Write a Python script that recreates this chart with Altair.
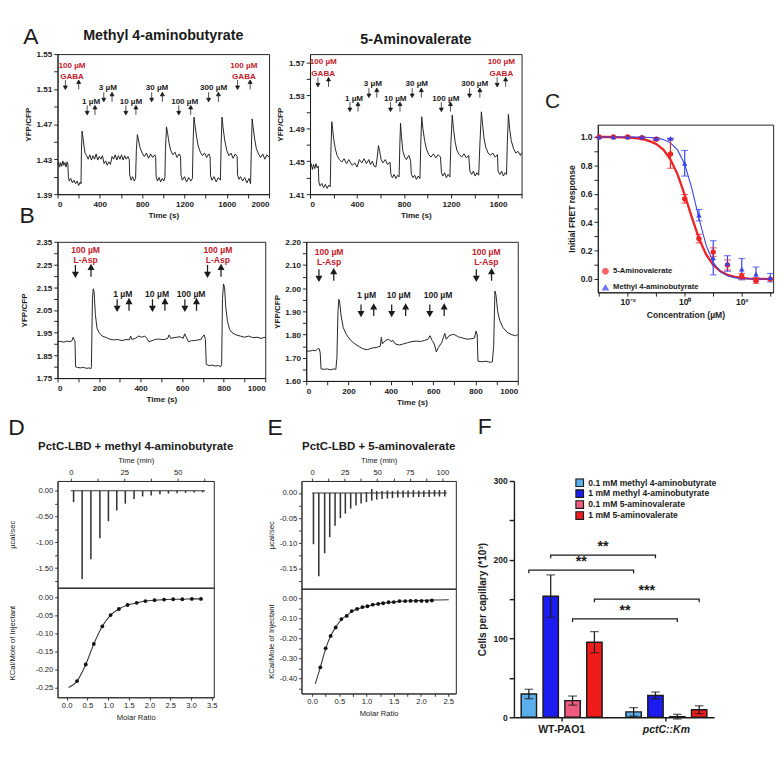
import altair as alt
import pandas as pd

FONT = "Liberation Sans"
INK = "#1b1b1b"
LIGAND_RED = "#c3202b"

# ---------------- Panel A (left): methyl 4-aminobutyrate FRET trace ----------------
a1_time = [0, 10, 20, 30, 40, 50, 60, 70, 80, 90, 98, 102, 110, 125, 140, 155, 170, 185, 200, 215, 222, 226, 232, 240, 250, 260,
           275, 290, 305, 320, 335, 350, 365, 380, 395, 410, 425, 440, 455, 470, 485, 500, 515, 530, 545, 560, 575, 590, 605,
           620, 635, 650, 665, 678, 682, 695, 710, 725, 738, 745, 755, 765, 780, 800, 820, 840, 860, 880, 900, 920, 928, 932,
           945, 960, 975, 990, 1005, 1015, 1020, 1030, 1040, 1055, 1070, 1090, 1110, 1130, 1150, 1163, 1167, 1180, 1200, 1220,
           1240, 1260, 1275, 1282, 1290, 1300, 1315, 1330, 1350, 1370, 1390, 1410, 1430, 1442, 1447, 1460, 1480, 1500, 1520,
           1540, 1546, 1555, 1565, 1580, 1600, 1620, 1640, 1660, 1680, 1698, 1702, 1715, 1730, 1750, 1770, 1790, 1810, 1825,
           1832, 1840, 1850, 1865, 1880, 1900, 1920, 1940, 1960, 1980, 2000]
a1_ratio = [1.424, 1.427, 1.421, 1.426, 1.422, 1.428, 1.423, 1.426, 1.421, 1.427, 1.424, 1.410, 1.405, 1.408, 1.403, 1.406,
            1.402, 1.405, 1.400, 1.404, 1.402, 1.440, 1.462, 1.455, 1.445, 1.437, 1.434, 1.430, 1.435, 1.429, 1.434, 1.430,
            1.436, 1.429, 1.433, 1.430, 1.434, 1.425, 1.428, 1.423, 1.427, 1.424, 1.433, 1.430, 1.435, 1.429, 1.434, 1.430,
            1.435, 1.429, 1.434, 1.430, 1.433, 1.430, 1.412, 1.406, 1.410, 1.405, 1.408, 1.440, 1.458, 1.452, 1.443, 1.437,
            1.433, 1.437, 1.431, 1.436, 1.432, 1.435, 1.432, 1.410, 1.405, 1.409, 1.404, 1.408, 1.405, 1.409, 1.440, 1.467,
            1.460, 1.448, 1.440, 1.435, 1.438, 1.432, 1.436, 1.433, 1.412, 1.406, 1.410, 1.404, 1.409, 1.405, 1.408, 1.450,
            1.478, 1.468, 1.455, 1.445, 1.438, 1.434, 1.437, 1.432, 1.436, 1.433, 1.411, 1.406, 1.410, 1.404, 1.409, 1.406,
            1.445, 1.478, 1.466, 1.452, 1.440, 1.434, 1.437, 1.431, 1.436, 1.433, 1.412, 1.407, 1.410, 1.405, 1.409, 1.403,
            1.408, 1.402, 1.440, 1.476, 1.466, 1.452, 1.442, 1.436, 1.432, 1.436, 1.430, 1.435, 1.432]
a1_lab_text = ["100 µM", "GABA", "1 µM", "3 µM", "10 µM", "30 µM", "100 µM", "300 µM", "100 µM", "GABA"]
a1_lab_kind = ["ligand", "ligand", "dose", "dose", "dose", "dose", "dose", "dose", "ligand", "ligand"]
a1_lab_x = [137, 137, 317, 476, 694, 940, 1202, 1475, 1762, 1762]
a1_lab_y = [1.537, 1.525, 1.496, 1.512, 1.496, 1.512, 1.496, 1.512, 1.537, 1.525]
a1_down_x = [74, 280, 437, 646, 890, 1146, 1428, 1702]
a1_up_x = [200, 354, 515, 741, 991, 1259, 1521, 1821]
a1_arrow_y = [1.515, 1.486, 1.501, 1.486, 1.501, 1.486, 1.501, 1.515]
a1_xticks = [0, 200, 400, 600, 800, 1000, 1200, 1400, 1600, 1800, 2000]
a1_xlabels = [0, 400, 800, 1200, 1600, 2000]
a1_yticks = [1.39, 1.41, 1.43, 1.45, 1.47, 1.49, 1.51, 1.53, 1.55]
a1_ylabels = [1.39, 1.43, 1.47, 1.51, 1.55]

# ---------------- Panel A (right): 5-aminovalerate FRET trace ----------------
a2_time = [0, 10, 20, 30, 40, 50, 60, 70, 75, 85, 100, 115, 130, 145, 160, 172, 177, 185, 192, 200, 215, 230, 250, 270, 290,
           310, 330, 345, 360, 380, 400, 420, 440, 460, 480, 500, 515, 530, 545, 560, 572, 582, 592, 605, 620, 640, 660, 680,
           688, 700, 715, 730, 745, 758, 764, 770, 778, 790, 805, 820, 840, 855, 862, 875, 890, 905, 920, 935, 942, 950, 960,
           975, 990, 1010, 1030, 1050, 1070, 1090, 1110, 1118, 1130, 1145, 1160, 1175, 1190, 1198, 1210, 1220, 1235, 1250,
           1270, 1290, 1310, 1330, 1350, 1360, 1375, 1390, 1405, 1420, 1435, 1445, 1458, 1468, 1480, 1495, 1515, 1535, 1555,
           1575, 1595, 1600, 1615, 1630, 1645, 1660, 1672, 1678, 1688, 1698, 1712, 1730, 1750, 1770, 1790, 1800]
a2_ratio = [1.444, 1.447, 1.440, 1.446, 1.441, 1.447, 1.442, 1.444, 1.425, 1.420, 1.423, 1.418, 1.422, 1.417, 1.421, 1.419,
            1.460, 1.498, 1.490, 1.478, 1.465, 1.457, 1.452, 1.449, 1.453, 1.447, 1.452, 1.448, 1.445, 1.448, 1.443, 1.452,
            1.448, 1.453, 1.447, 1.452, 1.446, 1.450, 1.444, 1.443, 1.455, 1.469, 1.462, 1.452, 1.448, 1.452, 1.446, 1.449,
            1.434, 1.430, 1.434, 1.429, 1.433, 1.431, 1.470, 1.496, 1.480, 1.462, 1.455, 1.452, 1.457, 1.451, 1.434, 1.430,
            1.433, 1.428, 1.432, 1.429, 1.470, 1.504, 1.490, 1.475, 1.465, 1.458, 1.455, 1.459, 1.454, 1.458, 1.455, 1.436,
            1.432, 1.436, 1.430, 1.434, 1.431, 1.470, 1.506, 1.490, 1.473, 1.463, 1.458, 1.455, 1.459, 1.454, 1.457, 1.438,
            1.434, 1.438, 1.432, 1.436, 1.433, 1.470, 1.510, 1.495, 1.478, 1.467, 1.460, 1.457, 1.460, 1.455, 1.458, 1.438,
            1.434, 1.438, 1.432, 1.436, 1.434, 1.470, 1.507, 1.490, 1.475, 1.466, 1.460, 1.462, 1.457, 1.460]
a2_lab_text = ["100 µM", "GABA", "1 µM", "3 µM", "10 µM", "30 µM", "100 µM", "300 µM", "100 µM", "GABA"]
a2_lab_kind = ["ligand", "ligand", "dose", "dose", "dose", "dose", "dose", "dose", "ligand", "ligand"]
a2_lab_x = [112, 112, 374, 535, 725, 908, 1156, 1401, 1628, 1628]
a2_lab_y = [1.571, 1.557, 1.527, 1.545, 1.527, 1.545, 1.527, 1.545, 1.571, 1.557]
a2_down_x = [67, 339, 501, 685, 869, 1117, 1357, 1592]
a2_up_x = [157, 408, 568, 765, 947, 1195, 1445, 1664]
a2_arrow_y = [1.546, 1.516, 1.533, 1.516, 1.533, 1.516, 1.533, 1.546]
a2_xticks = [0, 200, 400, 600, 800, 1000, 1200, 1400, 1600, 1800]
a2_xlabels = [0, 400, 800, 1200, 1600]
a2_yticks = [1.41, 1.43, 1.45, 1.47, 1.49, 1.51, 1.53, 1.55, 1.57]
a2_ylabels = [1.41, 1.45, 1.49, 1.53, 1.57]

# ---------------- Panel B (left): L-Asp control with methyl 4-aminobutyrate ----------------
b1_time = [0, 15, 30, 45, 60, 70, 75, 80, 84, 87, 95, 110, 125, 140, 155, 160, 163, 168, 172, 176, 182, 190, 200, 215, 230,
           250, 270, 290, 310, 330, 345, 352, 358, 375, 390, 405, 420, 430, 440, 455, 470, 485, 500, 515, 530, 537, 545, 560,
           575, 590, 605, 612, 620, 630, 645, 660, 675, 690, 700, 706, 712, 716, 730, 745, 760, 775, 785, 790, 794, 799, 804,
           810, 818, 828, 840, 860, 880, 900, 920, 940, 960, 980, 1000]
b1_ratio = [1.910, 1.912, 1.908, 1.913, 1.910, 1.915, 1.930, 1.920, 1.910, 1.800, 1.797, 1.795, 1.797, 1.793, 1.795, 1.790,
            1.800, 2.100, 2.143, 2.130, 2.030, 1.970, 1.950, 1.935, 1.930, 1.922, 1.918, 1.920, 1.915, 1.920, 1.918, 1.935,
            1.920, 1.925, 1.935, 1.930, 1.935, 1.925, 1.910, 1.915, 1.920, 1.922, 1.920, 1.920, 1.925, 1.940, 1.925, 1.928,
            1.930, 1.932, 1.925, 1.945, 1.930, 1.910, 1.915, 1.915, 1.918, 1.920, 1.935, 1.940, 1.920, 1.810, 1.805, 1.807,
            1.803, 1.805, 1.800, 1.810, 2.100, 2.165, 2.150, 2.060, 2.000, 1.965, 1.950, 1.940, 1.935, 1.930, 1.935, 1.928,
            1.930, 1.925, 1.930]
b1_lab_text = ["100 µM", "L-Asp", "1 µM", "10 µM", "100 µM", "100 µM", "L-Asp"]
b1_lab_kind = ["ligand", "ligand", "dose", "dose", "dose", "ligand", "ligand"]
b1_lab_x = [135, 135, 314, 479, 643, 772, 772]
b1_lab_y = [2.314, 2.270, 2.118, 2.118, 2.118, 2.314, 2.270]
b1_down_x = [86, 287, 457, 613, 722]
b1_up_x = [161, 344, 517, 669, 787]
b1_arrow_y = [2.222, 2.072, 2.072, 2.072, 2.222]
b1_xticks = [0, 100, 200, 300, 400, 500, 600, 700, 800, 900, 1000]
b1_xlabels = [0, 200, 400, 600, 800, 1000]
b1_yticks = [1.75, 1.80, 1.85, 1.90, 1.95, 2.00, 2.05, 2.10, 2.15, 2.20, 2.25, 2.30, 2.35]
b1_ylabels = [1.75, 1.85, 1.95, 2.05, 2.15, 2.25, 2.35]

# ---------------- Panel B (right): L-Asp control with 5-aminovalerate ----------------
b2_time = [0, 15, 30, 45, 55, 62, 66, 70, 85, 100, 115, 130, 140, 145, 150, 154, 158, 165, 175, 190, 210, 230, 250, 270,
           290, 310, 330, 350, 355, 360, 375, 390, 400, 410, 420, 440, 460, 480, 500, 520, 540, 560, 575, 585, 595, 605, 615,
           625, 640, 655, 662, 675, 690, 700, 720, 740, 760, 780, 795, 803, 808, 812, 830, 850, 870, 880, 886, 892, 897, 905,
           915, 930, 950, 970, 990, 1000]
b2_ratio = [1.730, 1.728, 1.732, 1.730, 1.740, 1.738, 1.720, 1.652, 1.650, 1.652, 1.648, 1.652, 1.650, 1.700, 1.900, 1.952,
            1.940, 1.880, 1.830, 1.800, 1.775, 1.760, 1.748, 1.738, 1.735, 1.742, 1.744, 1.750, 1.788, 1.760, 1.775, 1.780,
            1.770, 1.775, 1.760, 1.755, 1.760, 1.765, 1.770, 1.772, 1.770, 1.775, 1.780, 1.795, 1.775, 1.760, 1.725, 1.745,
            1.765, 1.805, 1.780, 1.795, 1.800, 1.800, 1.790, 1.785, 1.780, 1.782, 1.785, 1.815, 1.800, 1.685, 1.683, 1.685,
            1.680, 1.683, 1.750, 1.988, 1.970, 1.900, 1.860, 1.830, 1.810, 1.800, 1.795, 1.800]
b2_lab_text = ["100 µM", "L-Asp", "1 µM", "10 µM", "100 µM", "100 µM", "L-Asp"]
b2_lab_kind = ["ligand", "ligand", "dose", "dose", "dose", "ligand", "ligand"]
b2_lab_x = [108, 108, 285, 437, 623, 851, 851]
b2_lab_y = [2.156, 2.112, 1.971, 1.971, 1.971, 2.156, 2.112]
b2_down_x = [60, 259, 404, 584, 804]
b2_up_x = [130, 319, 470, 652, 876]
b2_arrow_y = [2.057, 1.905, 1.905, 1.905, 2.057]
b2_xticks = [0, 100, 200, 300, 400, 500, 600, 700, 800, 900, 1000]
b2_xlabels = [0, 200, 400, 600, 800, 1000]
b2_yticks = [1.60, 1.65, 1.70, 1.75, 1.80, 1.85, 1.90, 1.95, 2.00, 2.05, 2.10, 2.15, 2.20]
b2_ylabels = [1.60, 1.70, 1.80, 1.90, 2.00, 2.10, 2.20]

# ---------------- Panel C: dose response ----------------
c_series = ["5-Aminovalerate", "Methyl 4-aminobutyrate"]
c_colors = ["#ee2424", "#3340ee"]
c_conc = [0.001, 0.00316, 0.01, 0.0316, 0.1, 0.316, 1, 3.16, 10, 31.6, 100, 316, 1000]
c_amv = [1.0, 1.0, 1.0, 0.995, 0.985, 0.88, 0.565, 0.285, 0.19, 0.10, 0.02, -0.01, 0.0]
c_amv_err = [0.0, 0.0, 0.005, 0.005, 0.01, 0.10, 0.03, 0.03, 0.03, 0.035, 0.02, 0.02, 0.0]
c_mab = [1.0, 1.0, 1.0, 1.0, 0.99, 0.99, 0.815, 0.45, 0.15, 0.11, 0.07, 0.035, 0.01]
c_mab_err = [0.0, 0.0, 0.0, 0.0, 0.005, 0.0, 0.09, 0.04, 0.12, 0.055, 0.075, 0.05, 0.03]
c_fit_conc = [0.001, 0.00178, 0.00316, 0.00562, 0.01, 0.0178, 0.0316, 0.0562, 0.1, 0.178, 0.316, 0.562, 1, 1.78,
              3.16, 5.62, 10, 17.8, 31.6, 56.2, 100, 178, 316, 562, 1000]
c_fit_amv = [1.0, 1.0, 0.999, 0.998, 0.996, 0.993, 0.986, 0.973, 0.951, 0.912, 0.843, 0.737, 0.593, 0.434, 0.287,
             0.174, 0.100, 0.055, 0.030, 0.016, 0.008, 0.004, 0.002, 0.001, 0.0005]
c_fit_mab = [1.0, 1.0, 1.0, 1.0, 1.0, 0.999, 0.998, 0.997, 0.992, 0.982, 0.959, 0.909, 0.808, 0.639, 0.427, 0.239,
             0.117, 0.053, 0.023, 0.010, 0.004, 0.002, 0.001, 0.0005, 0.0002]
c_xticks = [0.001, 0.01, 0.1, 1, 10, 100, 1000]
c_yticks = [0.0, 0.1, 0.2, 0.3, 0.4, 0.5, 0.6, 0.7, 0.8, 0.9, 1.0]
c_ylabels = [0.0, 0.2, 0.4, 0.6, 0.8, 1.0]

# ---------------- Panel D: ITC PctC-LBD + methyl 4-aminobutyrate ----------------
d_inj_time = [1.3, 5.3, 9.4, 13.6, 17.6, 21.5, 25.5, 29.6, 33.6, 37.6, 41.7, 45.7, 49.7, 53.7, 57.7, 61.7]
d_inj_low = [-0.22, -1.71, -1.33, -0.92, -0.59, -0.38, -0.25, -0.16, -0.11, -0.09, -0.065, -0.053, -0.047, -0.041,
             -0.035, -0.030]
d_inj_high = [0.0] * 16
d_base_time = [0.0, 62.8]
d_base_power = [0.0, 0.0]
d_ratio = [0.25, 0.46, 0.655, 0.86, 1.06, 1.26, 1.47, 1.69, 1.90, 2.12, 2.35, 2.57, 2.79, 3.02, 3.24]
d_heat = [-0.232, -0.186, -0.129, -0.080, -0.049, -0.032, -0.021, -0.015, -0.010, -0.0075, -0.006, -0.005, -0.005,
          -0.004, -0.004]
d_fit_ratio = [0.045, 0.25, 0.46, 0.655, 0.86, 1.06, 1.26, 1.47, 1.69, 1.90, 2.12, 2.35, 2.57, 2.79, 3.02, 3.24]
d_fit_heat = [-0.250, -0.232, -0.186, -0.129, -0.080, -0.049, -0.032, -0.021, -0.015, -0.010, -0.0075, -0.006,
              -0.005, -0.005, -0.004, -0.004]
d_tticks = [0, 12.5, 25, 37.5, 50, 62.5]
d_tlabels = [0, 25, 50]
d_pticks = [0.0, -0.25, -0.5, -0.75, -1.0, -1.25, -1.5, -1.75]
d_plabels = [0.0, -0.5, -1.0, -1.5]
d_rticks = [0.0, 0.5, 1.0, 1.5, 2.0, 2.5, 3.0, 3.5]
d_hticks = [0.0, -0.05, -0.10, -0.15, -0.20, -0.25]

# ---------------- Panel E: ITC PctC-LBD + 5-aminovalerate ----------------
e_inj_time = [1.0, 5.1, 9.6, 13.5, 17.6, 21.7, 25.5, 29.6, 33.7, 37.6, 41.7, 45.8, 49.6, 53.7, 57.8, 61.7, 65.8, 69.9,
              73.7, 77.8, 81.9, 85.8, 89.9, 94.0, 97.8, 101.9]
e_inj_low = [-0.102, -0.166, -0.120, -0.088, -0.065, -0.050, -0.041, -0.031, -0.025, -0.021, -0.018, -0.015, -0.013,
             -0.012, -0.011, -0.010, -0.009, -0.009, -0.009, -0.008, -0.008, -0.008, -0.008, -0.007, -0.007, -0.007]
e_inj_high = [0.0, 0.0, 0.0, 0.0, 0.0, 0.0, 0.0, 0.0, 0.0, 0.0, 0.002, 0.008, 0.004, 0.004, 0.005, 0.004, 0.005, 0.005,
              0.005, 0.006, 0.005, 0.005, 0.006, 0.006, 0.006, 0.006]
e_base_time = [0.0, 103.5]
e_base_power = [0.0, 0.0]
e_ratio = [0.15, 0.248, 0.34, 0.433, 0.537, 0.635, 0.727, 0.825, 0.924, 1.016, 1.114, 1.213, 1.305, 1.404, 1.50,
           1.605, 1.709, 1.808, 1.906, 2.01, 2.107, 2.20]
e_heat = [-0.344, -0.249, -0.187, -0.145, -0.103, -0.087, -0.063, -0.052, -0.043, -0.039, -0.031, -0.027, -0.024,
          -0.019, -0.018, -0.013, -0.013, -0.012, -0.012, -0.012, -0.013, -0.010]
e_fit_ratio = [0.057, 0.15, 0.248, 0.34, 0.433, 0.537, 0.635, 0.727, 0.825, 0.924, 1.016, 1.114, 1.213, 1.305, 1.404,
               1.50, 1.605, 1.709, 1.808, 1.906, 2.01, 2.107, 2.20, 2.51]
e_fit_heat = [-0.427, -0.344, -0.252, -0.187, -0.143, -0.106, -0.085, -0.066, -0.053, -0.045, -0.039, -0.032, -0.027,
              -0.023, -0.020, -0.017, -0.015, -0.013, -0.012, -0.011, -0.010, -0.009, -0.008, -0.006]
e_tticks = [0, 12.5, 25, 37.5, 50, 62.5, 75, 87.5, 100]
e_tlabels = [0, 25, 50, 75, 100]
e_pticks = [0.0, -0.025, -0.05, -0.075, -0.10, -0.125, -0.15, -0.175]
e_plabels = [0.0, -0.05, -0.10, -0.15]
e_rticks = [0.0, 0.25, 0.5, 0.75, 1.0, 1.25, 1.5, 1.75, 2.0, 2.25, 2.5]
e_rlabels = [0.0, 0.5, 1.0, 1.5, 2.0, 2.5]
e_hticks = [0.0, -0.05, -0.10, -0.15, -0.20, -0.25, -0.30, -0.35, -0.40, -0.45]
e_hlabels = [0.0, -0.10, -0.20, -0.30, -0.40]

# ---------------- Panel F: chemotaxis capillary assay ----------------
f_groups = ["WT-PAO1", "pctC::Km"]
f_series = ["0.1 mM methyl 4-aminobutyrate", "1 mM methyl 4-aminobutyrate", "0.1 mM 5-aminovalerate",
            "1 mM 5-aminovalerate"]
f_colors = ["#5aaeea", "#1c1cf0", "#ef5b81", "#f01c1c"]
f_wt = [29.6, 153.8, 21.2, 95.4]
f_wt_err = [6.0, 27.0, 5.8, 13.4]
f_ko = [6.9, 27.7, 0.8, 9.6]
f_ko_err = [5.4, 4.4, 3.0, 5.0]
f_yticks = [0, 50, 100, 150, 200, 250, 300]
f_ylabels = [0, 100, 200, 300]
sig_series = [0, 1, 3, 2]
sig_height = [187, 206, 150, 125]
sig_text = ["**", "**", "***", "**"]
sig_leg = 4

# arrow glyphs (unit-square SVG paths for point symbols)
ARROW_DOWN = "M0,-1L0,0.35M-0.42,0.25L0,1L0.42,0.25Z"
ARROW_UP = "M0,1L0,-0.35M-0.42,-0.25L0,-1L0.42,-0.25Z"


# ======================= helpers =======================
def show_expr(show, fmt, minus=False):
    arr = ",".join(repr(s) for s in show)
    e = f"format(datum.value, '{fmt}')"
    if minus:
        e = f"replace({e}, '\u2212', '-')"
    return f"indexof([{arr}], datum.value) >= 0 ? {e} : ''"


def letter(txt, dx=0, dy=0, offset=0, size=24):
    return alt.Title(txt, anchor="start", font=FONT, fontSize=size, fontWeight="normal", color=INK,
                     dx=dx, dy=dy, offset=offset)


def hc(*charts, **kw):
    return alt.hconcat(*charts, **kw).resolve_scale(color="independent", shape="independent")


def vc(*charts, **kw):
    return alt.vconcat(*charts, **kw).resolve_scale(color="independent", shape="independent")


def blank(w, h):
    return alt.Chart(pd.DataFrame({"s": [0]})).mark_point(opacity=0).encode(
        x=alt.X("s:Q", axis=None), y=alt.Y("s:Q", axis=None)).properties(
        width=w, height=h, view=alt.ViewBackground(strokeOpacity=0))


KEEP = dict(labelOverlap=False, tickCount=200)

AB_AXIS = dict(labelFont=FONT, labelFontWeight="bold", labelFontSize=8.5, labelColor=INK,
               titleFont=FONT, titleFontWeight="bold", titleFontSize=8.5, titleColor=INK,
               tickSize=4, tickColor=INK, domainColor=INK, grid=False, labelPadding=2, **KEEP)


def trace_panel(time, ratio, lab_text, lab_kind, lab_x, lab_y, down_x, up_x, arrow_y,
                xdom, ydom, xticks, xlabels, yticks, ylabels, w, h, title=None, ypad=4,
                lab_size=8.5, arrow_size=100, arrow_stroke=0.8):
    tr = pd.DataFrame({"t": time, "v": ratio})
    xs = alt.Scale(domain=xdom, nice=False, zero=False)
    ys = alt.Scale(domain=ydom, nice=False, zero=False)
    xa = alt.Axis(values=xticks, labelExpr=show_expr(xlabels, "d"), title="Time (s)", titlePadding=3, **AB_AXIS)
    ya = alt.Axis(values=yticks, labelExpr=show_expr(ylabels, ".2f"), title="YFP/CFP", titlePadding=ypad, **AB_AXIS)
    line = alt.Chart(tr).mark_line(color=INK, strokeWidth=1).encode(
        x=alt.X("t:Q", scale=xs, axis=xa), y=alt.Y("v:Q", scale=ys, axis=ya))
    lab = pd.DataFrame({"t": lab_x, "v": lab_y, "txt": lab_text, "kind": lab_kind})
    red = alt.Chart(lab).transform_filter(alt.datum.kind == "ligand").mark_text(
        font=FONT, fontWeight="bold", fontSize=lab_size, color=LIGAND_RED).encode(x="t:Q", y="v:Q", text="txt:N")
    blk = alt.Chart(lab).transform_filter(alt.datum.kind == "dose").mark_text(
        font=FONT, fontWeight="bold", fontSize=lab_size, color=INK).encode(x="t:Q", y="v:Q", text="txt:N")
    dn = alt.Chart(pd.DataFrame({"t": down_x, "v": arrow_y})).mark_point(
        shape=ARROW_DOWN, size=arrow_size, filled=True, fill=INK, stroke=INK, strokeWidth=arrow_stroke,
        opacity=1).encode(x="t:Q", y="v:Q")
    up = alt.Chart(pd.DataFrame({"t": up_x, "v": arrow_y})).mark_point(
        shape=ARROW_UP, size=arrow_size, filled=True, fill=INK, stroke=INK, strokeWidth=arrow_stroke,
        opacity=1).encode(x="t:Q", y="v:Q")
    ch = alt.layer(line, red, blk, dn, up).properties(width=w, height=h)
    if title:
        ch = ch.properties(title=alt.Title(title, font=FONT, fontSize=15, fontWeight="bold", color=INK,
                                           offset=8, frame="group"))
    return ch


ITC_AXIS = dict(labelFont=FONT, labelFontSize=8, labelColor="#222", titleFont=FONT, titleFontSize=8,
                titleFontWeight="normal", titleColor="#222", tickSize=3, tickColor="#333", domainColor="#333",
                grid=False, labelPadding=2, **KEEP)


def itc_panel(inj_t, inj_lo, inj_hi, base_t, base_p, ratio, heat, fit_r, fit_h,
              tdom, pdom, tticks, tlabels, pticks, plabels,
              rdom, hdom, rticks, rlabels, hticks, hlabels, w, h1, h2, title, let, ypad):
    xs_t = alt.Scale(domain=tdom, nice=False, zero=False)
    ys_p = alt.Scale(domain=pdom, nice=False, zero=False)
    xa_t = alt.Axis(orient="top", values=tticks, labelExpr=show_expr(tlabels, "d"), title="Time (min)",
                    titlePadding=4, **ITC_AXIS)
    ya_p = alt.Axis(values=pticks, labelExpr=show_expr(plabels, ".2f", True), title="µcal/sec",
                    titlePadding=ypad, **ITC_AXIS)
    base = alt.Chart(pd.DataFrame({"t": base_t, "p": base_p})).mark_line(color="#333", strokeWidth=1.2).encode(
        x=alt.X("t:Q", scale=xs_t, axis=xa_t), y=alt.Y("p:Q", scale=ys_p, axis=ya_p))
    spikes = alt.Chart(pd.DataFrame({"t": inj_t, "p": inj_lo, "p2": inj_hi})).mark_rule(
        color="#333", strokeWidth=1.6).encode(x="t:Q", y="p:Q", y2="p2:Q")
    top = alt.layer(base, spikes).properties(
        width=w, height=h1,
        title=alt.Title(title, font=FONT, fontSize=12, fontWeight="bold", color=INK, offset=5, frame="group"))

    xs_r = alt.Scale(domain=rdom, nice=False, zero=False)
    ys_h = alt.Scale(domain=hdom, nice=False, zero=False)
    xa_r = alt.Axis(values=rticks, labelExpr=show_expr(rlabels, ".1f"), title="Molar Ratio", titlePadding=4,
                    **ITC_AXIS)
    ya_h = alt.Axis(values=hticks, labelExpr=show_expr(hlabels, ".2f", True), title="KCal/Mole of Injectant",
                    titlePadding=ypad, **ITC_AXIS)
    fit = alt.Chart(pd.DataFrame({"r": fit_r, "q": fit_h})).mark_line(
        color="#333", strokeWidth=1.1, interpolate="monotone").encode(
        x=alt.X("r:Q", scale=xs_r, axis=xa_r), y=alt.Y("q:Q", scale=ys_h, axis=ya_h))
    pts = alt.Chart(pd.DataFrame({"r": ratio, "q": heat})).mark_point(
        filled=True, color="#111", size=16, opacity=1).encode(x="r:Q", y="q:Q")
    bot = alt.layer(fit, pts).properties(width=w, height=h2)
    return vc(top, bot, spacing=0, bounds="flush", title=letter(let))


# ======================= Panels A & B =======================
A1 = trace_panel(a1_time, a1_ratio, a1_lab_text, a1_lab_kind, a1_lab_x, a1_lab_y, a1_down_x, a1_up_x, a1_arrow_y,
                 [0, 2000], [1.39, 1.55], a1_xticks, a1_xlabels, a1_yticks, a1_ylabels, 222, 147,
                 title="Methyl 4-aminobutyrate")
A2 = trace_panel(a2_time, a2_ratio, a2_lab_text, a2_lab_kind, a2_lab_x, a2_lab_y, a2_down_x, a2_up_x, a2_arrow_y,
                 [0, 1800], [1.41, 1.58], a2_xticks, a2_xlabels, a2_yticks, a2_ylabels, 222, 147,
                 title="5-Aminovalerate")
B1 = trace_panel(b1_time, b1_ratio, b1_lab_text, b1_lab_kind, b1_lab_x, b1_lab_y, b1_down_x, b1_up_x, b1_arrow_y,
                 [0, 1000], [1.75, 2.35], b1_xticks, b1_xlabels, b1_yticks, b1_ylabels, 218, 143, ypad=8,
                 lab_size=9, arrow_size=150, arrow_stroke=1.3)
B2 = trace_panel(b2_time, b2_ratio, b2_lab_text, b2_lab_kind, b2_lab_x, b2_lab_y, b2_down_x, b2_up_x, b2_arrow_y,
                 [0, 1000], [1.60, 2.20], b2_xticks, b2_xlabels, b2_yticks, b2_ylabels, 222, 146,
                 lab_size=9, arrow_size=150, arrow_stroke=1.3)

rowA = hc(A1, A2, spacing=3, title=letter("A", offset=-22))
rowB = hc(B1, B2, spacing=3, title=letter("B", offset=10))
leftCol = vc(rowA, rowB, spacing=-16)

# ======================= Panel C =======================
c_df = pd.DataFrame({
    "conc": c_conc + c_conc,
    "resp": c_amv + c_mab,
    "err": c_amv_err + c_mab_err,
    "series": [c_series[0]] * len(c_conc) + [c_series[1]] * len(c_conc),
})
c_fit = pd.DataFrame({"conc": c_fit_conc, "amv": c_fit_amv, "mab": c_fit_mab})
C_AXIS = dict(labelFont=FONT, labelFontWeight="bold", labelFontSize=9, labelColor=INK, titleFont=FONT,
              titleFontWeight="bold", titleFontSize=9, titleColor=INK, tickSize=4, tickColor=INK,
              domainColor=INK, grid=False, labelPadding=2, titlePadding=4, **KEEP)
c_xs = alt.Scale(type="log", domain=[0.0009, 1260], nice=False)
c_ys = alt.Scale(domain=[-0.093, 1.087], nice=False, zero=False)
c_xa = alt.Axis(values=c_xticks, title="Concentration (µM)",
                labelExpr="datum.value == 0.01 ? '10⁻²' : datum.value == 1 ? '10⁰' : datum.value == 100 ? '10²' : ''",
                **C_AXIS)
c_ya = alt.Axis(values=c_yticks, labelExpr=show_expr(c_ylabels, ".1f"), title="Initial FRET response", **C_AXIS)
c_cs = alt.Scale(domain=c_series, range=c_colors)
c_leg = alt.Legend(title=None, orient="none", legendX=4, legendY=150, labelFont=FONT, labelFontWeight="bold",
                   labelFontSize=8, labelColor=INK, symbolSize=30, rowPadding=5, labelOffset=4)
fit_amv = alt.Chart(c_fit).mark_line(color=c_colors[0], strokeWidth=2.4).encode(
    x=alt.X("conc:Q", scale=c_xs, axis=c_xa), y=alt.Y("amv:Q", scale=c_ys, axis=c_ya))
fit_mab = alt.Chart(c_fit).mark_line(color=c_colors[1], strokeWidth=1.1).encode(x="conc:Q", y="mab:Q")
c_base = alt.Chart(c_df).transform_calculate(lo="datum.resp - datum.err", hi="datum.resp + datum.err")
c_err = c_base.mark_rule(strokeWidth=1.2).encode(
    x="conc:Q", y="lo:Q", y2="hi:Q", color=alt.Color("series:N", scale=c_cs, legend=c_leg))
c_cap_lo = c_base.mark_tick(orient="horizontal", size=7, thickness=1.2).encode(
    x="conc:Q", y="lo:Q", color=alt.Color("series:N", scale=c_cs, legend=c_leg))
c_cap_hi = c_base.mark_tick(orient="horizontal", size=7, thickness=1.2).encode(
    x="conc:Q", y="hi:Q", color=alt.Color("series:N", scale=c_cs, legend=c_leg))
c_pts = alt.Chart(c_df).mark_point(filled=True, size=32, opacity=1).encode(
    x="conc:Q", y="resp:Q",
    color=alt.Color("series:N", scale=c_cs, legend=c_leg),
    shape=alt.Shape("series:N", scale=alt.Scale(domain=c_series, range=["circle", "triangle-up"]), legend=c_leg))
C = alt.layer(fit_amv, fit_mab, c_err, c_cap_lo, c_cap_hi, c_pts).properties(
    width=184, height=176, title=letter("C", size=22, dx=-24, offset=12))

Ccol = vc(blank(1, 28), C, spacing=10)

row1 = hc(leftCol, Ccol, spacing=20)

# ======================= Panels D & E =======================
D = itc_panel(d_inj_time, d_inj_low, d_inj_high, d_base_time, d_base_power, d_ratio, d_heat, d_fit_ratio, d_fit_heat,
              [-6.2, 66.9], [-1.88, 0.19], d_tticks, d_tlabels, d_pticks, d_plabels,
              [-0.22, 3.55], [-0.277, 0.027], d_rticks, d_rticks, d_hticks, d_hticks,
              164, 112, 115, "PctC-LBD + methyl 4-aminobutyrate", "D", 20)
E = itc_panel(e_inj_time, e_inj_low, e_inj_high, e_base_time, e_base_power, e_ratio, e_heat, e_fit_ratio, e_fit_heat,
              [-8.2, 110.4], [-0.1906, 0.024], e_tticks, e_tlabels, e_pticks, e_plabels,
              [-0.196, 2.64], [-0.475, 0.049], e_rticks, e_rlabels, e_hticks, e_hlabels,
              162, 113, 110, "PctC-LBD + 5-aminovalerate", "E", 4)

# ======================= Panel F =======================
f_df = pd.DataFrame({
    "group": [f_groups[0]] * 4 + [f_groups[1]] * 4,
    "series": f_series + f_series,
    "value": f_wt + f_ko,
    "err": f_wt_err + f_ko_err,
})
brk = []
for k, (s, hgt) in enumerate(zip(sig_series, sig_height)):
    brk += [dict(b=k, o=0, group=f_groups[0], series=f_series[s], y=hgt - sig_leg),
            dict(b=k, o=1, group=f_groups[0], series=f_series[s], y=hgt),
            dict(b=k, o=2, group=f_groups[1], series=f_series[s], y=hgt),
            dict(b=k, o=3, group=f_groups[1], series=f_series[s], y=hgt - sig_leg)]
brk_df = pd.DataFrame(brk)
star_df = pd.DataFrame({"group": [f_groups[0]] * 4, "series": [f_series[s] for s in sig_series],
                        "y": sig_height, "txt": sig_text})

F_W, F_H = 210, 248
f_pi, f_po = 0.2, 0.055
f_xs = alt.Scale(domain=f_groups, paddingInner=f_pi, paddingOuter=f_po)
f_xo = alt.Scale(domain=f_series, paddingInner=0.297, paddingOuter=0.066)
f_ys = alt.Scale(domain=[0, 300], nice=False)
F_AXIS = dict(labelFont=FONT, labelFontWeight="bold", labelColor=INK, titleFont=FONT, titleFontWeight="bold",
              titleColor=INK, tickColor=INK, domainColor=INK, domainWidth=1.5, tickWidth=1.5, grid=False, **KEEP)
f_xa = alt.Axis(title=None, labelFontSize=11, labelPadding=3, tickSize=4, labelAngle=0,
                labelFontStyle={"condition": {"test": "datum.value === 'pctC::Km'", "value": "italic"},
                                "value": "normal"}, **F_AXIS)
f_ya = alt.Axis(values=f_yticks, labelExpr=show_expr(f_ylabels, "d"), title="Cells per capillary (*10³)",
                labelFontSize=9, titleFontSize=10.5, tickSize=5, labelPadding=2, titlePadding=6, **F_AXIS)
f_x = alt.X("group:N", scale=f_xs, axis=f_xa, sort=f_groups)
f_xoff = alt.XOffset("series:N", scale=f_xo, sort=f_series)
f_leg = alt.Legend(title=None, orient="none", legendX=64, legendY=-3, symbolType="square", symbolSize=64,
                   symbolStrokeColor=INK, symbolStrokeWidth=1.2, labelFont=FONT, labelFontWeight="bold",
                   labelFontSize=9, labelColor=INK, rowPadding=1.5, clipHeight=9.5, labelLimit=300)
bars = alt.Chart(f_df).mark_bar(stroke=INK, strokeWidth=1.5).encode(
    x=f_x, xOffset=f_xoff, y=alt.Y("value:Q", scale=f_ys, axis=f_ya),
    color=alt.Color("series:N", scale=alt.Scale(domain=f_series, range=f_colors), legend=f_leg))
f_base = alt.Chart(f_df).transform_calculate(lo="datum.value - datum.err", hi="datum.value + datum.err")
f_err = f_base.mark_rule(color=INK, strokeWidth=1.3).encode(x=f_x, xOffset=f_xoff, y="lo:Q", y2="hi:Q")
f_cap_lo = f_base.mark_tick(color=INK, thickness=1.3, size=9).encode(x=f_x, xOffset=f_xoff, y="lo:Q")
f_cap_hi = f_base.mark_tick(color=INK, thickness=1.3, size=9).encode(x=f_x, xOffset=f_xoff, y="hi:Q")
f_brk = alt.Chart(brk_df).mark_line(color=INK, strokeWidth=1.3).encode(
    x=f_x, xOffset=f_xoff, y="y:Q", detail="b:N", order="o:Q")
half_step = F_W / (2 - f_pi + 2 * f_po) / 2
f_star = alt.Chart(star_df).mark_text(font=FONT, fontWeight="bold", fontSize=15, color=INK, dx=half_step,
                                      dy=-1, baseline="bottom").encode(x=f_x, xOffset=f_xoff, y="y:Q", text="txt:N")
F = alt.layer(bars, f_err, f_cap_lo, f_cap_hi, f_brk, f_star).properties(
    width=F_W, height=F_H, view=alt.ViewBackground(strokeOpacity=0),
    title=letter("F", offset=12, dy=-28))

row2 = hc(D, hc(E, F, spacing=21), spacing=34)

chart = vc(row1, row2, spacing=10).properties(
    padding=0).configure_view(stroke=INK, strokeWidth=1).configure_axis(grid=False, labelOverlap=False)

chart.save("out.html", embed_options={"renderer": "svg", "actions": False})
